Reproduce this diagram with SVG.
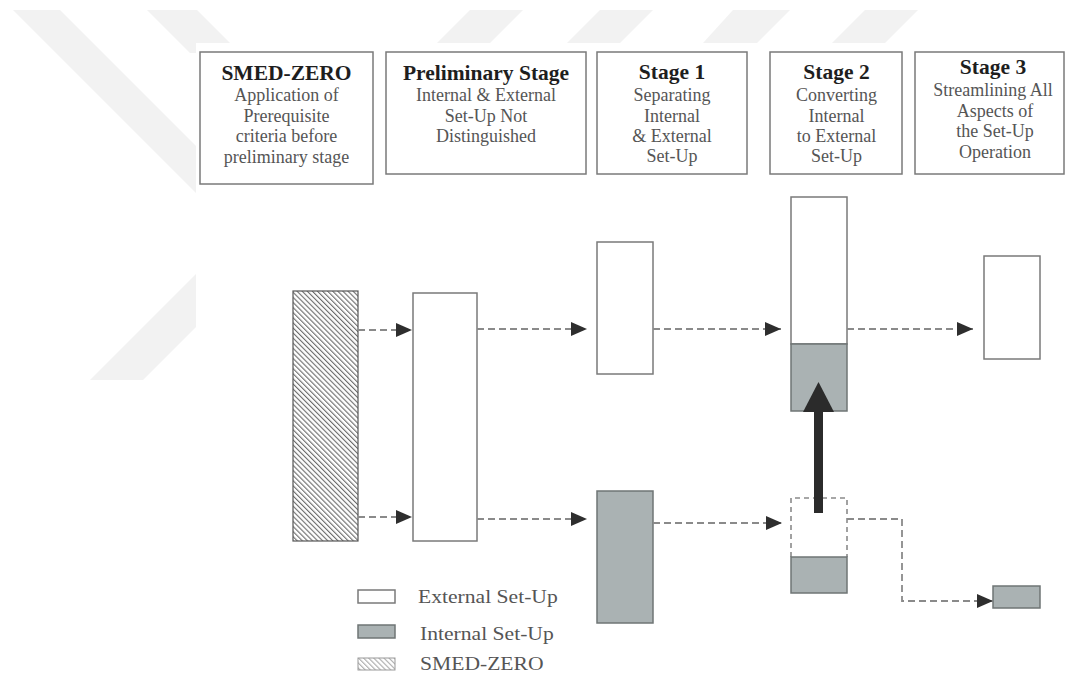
<svg xmlns="http://www.w3.org/2000/svg" width="1068" height="674" viewBox="0 0 1068 674">
  <style>
    .hdr { fill: #ffffff; stroke: #7a7a7a; stroke-width: 1.5; }
    .ttl { font-family: "Liberation Serif", "Times New Roman", serif; font-size: 21.5px; font-weight: bold; fill: #1e1e1e; text-anchor: middle; }
    .txt { font-family: "Liberation Serif", "Times New Roman", serif; font-size: 18px; fill: #555555; text-anchor: middle; }
    .leg { font-family: "Liberation Serif", "Times New Roman", serif; font-size: 18px; fill: #555555; }
    .ext { fill: #ffffff; stroke: #7a7a7a; stroke-width: 1.5; }
    .int { fill: #aab2b3; stroke: #6f7575; stroke-width: 1.5; }
    .zero { fill: url(#hatch); stroke: #555555; stroke-width: 1.2; }
    .flow { fill: none; stroke: #8a8a8a; stroke-width: 1.8; stroke-dasharray: 7 4; }
    .wm { fill: #f2f2f2; }
  </style>
  <defs>
    <pattern id="hatch" width="3.6" height="3.6" patternUnits="userSpaceOnUse" patternTransform="rotate(-45)">
      <rect width="3.6" height="3.6" fill="#ffffff"/>
      <line x1="0.6" y1="0" x2="0.6" y2="3.6" stroke="#5a5a5a" stroke-width="1"/>
    </pattern>
    <pattern id="hatchLight" width="3.6" height="3.6" patternUnits="userSpaceOnUse" patternTransform="rotate(-45)">
      <rect width="3.6" height="3.6" fill="#ffffff"/>
      <line x1="0.6" y1="0" x2="0.6" y2="3.6" stroke="#a0a0a0" stroke-width="1"/>
    </pattern>
    <marker id="tri" markerUnits="userSpaceOnUse" markerWidth="17" markerHeight="15" refX="16" refY="7" orient="auto">
      <path d="M0,0 L16,7 L0,14 z" fill="#2e2e2e"/>
    </marker>
  </defs>

  <!-- faint background stripes -->
  <rect width="1068" height="674" fill="#ffffff"/>
  <g id="backdrop">
    <polygon class="wm" points="13,10 60,10 196,146 196,193"/>
    <polygon class="wm" points="147,10 197,10 240,53 190,53"/>
    <polygon class="wm" points="90,380 143,380 250,273 197,273"/>
    <polygon class="wm" points="470,10 523,10 490,43 437,43"/>
    <polygon class="wm" points="600,10 653,10 620,43 567,43"/>
    <polygon class="wm" points="733,10 790,10 757,43 703,43"/>
    <polygon class="wm" points="865,10 918,10 885,43 832,43"/>
    <rect x="196" y="43" width="872" height="631" fill="#ffffff"/>
  </g>

  <!-- stage headers -->
  <g id="hdr-smed-zero">
    <rect class="hdr" x="200" y="52" width="173" height="132"/>
    <text class="ttl" x="286.5" y="80">SMED-ZERO</text>
    <text class="txt" x="286.5" y="101">Application of</text>
    <text class="txt" x="286.5" y="122">Prerequisite</text>
    <text class="txt" x="286.5" y="142">criteria before</text>
    <text class="txt" x="286.5" y="163">preliminary stage</text>
  </g>
  <g id="hdr-preliminary">
    <rect class="hdr" x="386" y="52" width="200" height="122"/>
    <text class="ttl" x="486" y="80">Preliminary Stage</text>
    <text class="txt" x="486" y="101">Internal &amp; External</text>
    <text class="txt" x="486" y="122">Set-Up Not</text>
    <text class="txt" x="486" y="142">Distinguished</text>
  </g>
  <g id="hdr-stage1">
    <rect class="hdr" x="597" y="52" width="150" height="122"/>
    <text class="ttl" x="672" y="79">Stage 1</text>
    <text class="txt" x="672" y="101">Separating</text>
    <text class="txt" x="672" y="122">Internal</text>
    <text class="txt" x="672" y="142">&amp; External</text>
    <text class="txt" x="672" y="162">Set-Up</text>
  </g>
  <g id="hdr-stage2">
    <rect class="hdr" x="770" y="52" width="132" height="122"/>
    <text class="ttl" x="836.5" y="79">Stage 2</text>
    <text class="txt" x="836.5" y="101">Converting</text>
    <text class="txt" x="836.5" y="122">Internal</text>
    <text class="txt" x="836.5" y="142">to External</text>
    <text class="txt" x="836.5" y="162">Set-Up</text>
  </g>
  <g id="hdr-stage3">
    <rect class="hdr" x="915" y="52" width="149" height="122"/>
    <text class="ttl" x="993" y="74">Stage 3</text>
    <text class="txt" x="993" y="96">Streamlining All</text>
    <text class="txt" x="995" y="117">Aspects of</text>
    <text class="txt" x="995" y="137">the Set-Up</text>
    <text class="txt" x="995" y="158">Operation</text>
  </g>

  <!-- set-up bars -->
  <g id="bar-smed-zero">
    <rect class="zero" x="293" y="291" width="65" height="250"/>
  </g>
  <g id="bar-preliminary">
    <rect class="ext" x="413" y="293" width="64" height="248"/>
  </g>
  <g id="bar-stage1-external">
    <rect class="ext" x="597" y="242" width="56" height="132"/>
  </g>
  <g id="bar-stage1-internal">
    <rect class="int" x="597" y="491" width="56" height="132"/>
  </g>
  <g id="bar-stage2-upper">
    <rect class="ext" x="791" y="197" width="56" height="147"/>
    <rect class="int" x="791" y="344" width="56" height="67"/>
  </g>
  <g id="bar-stage2-lower">
    <path d="M791,557 V498 H847 V557" fill="#ffffff" stroke="#8a8a8a" stroke-width="1.6" stroke-dasharray="5 4"/>
    <rect class="int" x="791" y="557" width="56" height="36"/>
  </g>
  <g id="bar-stage3-external">
    <rect class="ext" x="984" y="256" width="56" height="103"/>
  </g>
  <g id="bar-stage3-internal">
    <rect class="int" x="993" y="586" width="47" height="22"/>
  </g>

  <!-- flow connectors -->
  <g id="connectors">
    <line class="flow" x1="358" y1="330" x2="412" y2="330" marker-end="url(#tri)"/>
    <line class="flow" x1="477" y1="329" x2="587" y2="329" marker-end="url(#tri)"/>
    <line class="flow" x1="653" y1="329" x2="781" y2="329" marker-end="url(#tri)"/>
    <line class="flow" x1="847" y1="329" x2="973" y2="329" marker-end="url(#tri)"/>
    <line class="flow" x1="358" y1="517" x2="412" y2="517" marker-end="url(#tri)"/>
    <line class="flow" x1="477" y1="519" x2="587" y2="519" marker-end="url(#tri)"/>
    <line class="flow" x1="653" y1="523" x2="782" y2="523" marker-end="url(#tri)"/>
    <path class="flow" d="M847,519 H902 V601 H993" marker-end="url(#tri)"/>
    <!-- internal to external conversion -->
    <rect x="814" y="410" width="9" height="103" fill="#2b2b2b"/>
    <polygon points="803,412 834,412 818.5,382" fill="#2b2b2b"/>
  </g>

  <!-- legend -->
  <g id="legend">
    <rect class="ext" x="358" y="590" width="37" height="13"/>
    <text class="leg" transform="translate(418,603) scale(1.2,1)">External Set-Up</text>
    <rect class="int" x="358" y="625" width="37" height="13"/>
    <text class="leg" transform="translate(420,640) scale(1.2,1)">Internal Set-Up</text>
    <rect x="358" y="658" width="37" height="12" fill="url(#hatchLight)" stroke="#9a9a9a" stroke-width="1"/>
    <text class="leg" transform="translate(420,670) scale(1.2,1)">SMED-ZERO</text>
  </g>
</svg>
